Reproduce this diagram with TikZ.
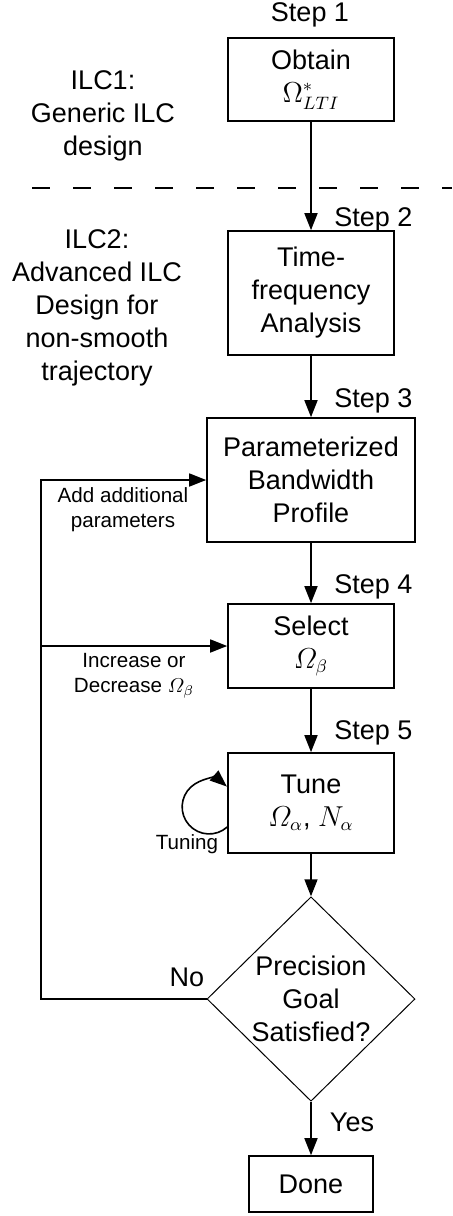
\documentclass[tikz,border=0pt]{standalone}
\usepackage{amsmath}
\usepackage{fontspec}
\setmainfont{Liberation Sans}
\usetikzlibrary{arrows.meta,shapes.geometric}
\newcommand{\bigtxt}{\fontsize{13.5pt}{16.5pt}\selectfont}
\newcommand{\smalltxt}{\fontsize{10.3pt}{12.5pt}\selectfont}
\tikzset{
	stepbox/.style={draw, line width=0.8pt, align=center, inner sep=0pt, font=\bigtxt},
	decision/.style={draw, diamond, line width=0.5pt, align=center, inner sep=0pt, font=\bigtxt},
	arr/.style={line width=0.8pt, -{Triangle[length=8.5pt,width=6.5pt]}},
	steplabel/.style={anchor=west, font=\bigtxt, inner sep=0pt},
	note/.style={align=center, font=\smalltxt, inner sep=0pt},
	phase/.style={align=center, font=\bigtxt, inner sep=0pt}
}

\begin{document}
\begin{tikzpicture}[x=0.5pt, y=-0.5pt]
		%%%%% START %%%%%
		\useasboundingbox (0, 0) rectangle (452, 1216);
		
		\node[phase] (ilc1) at (103, 116) {ILC1:\\Generic ILC\\design};
		\node[phase] (ilc2) at (97, 308) {ILC2:\\Advanced ILC\\Design for\\non-smooth\\trajectory};
		\draw[line width=0.8pt, dash pattern=on 9pt off 11.5pt] (32, 188) -- (452, 188);
		
		\node[stepbox, minimum width=83pt, minimum height=41.5pt] (obtain) at (311, 79.5) {Obtain\\$\Omega^{*}_{LTI}$};
		\node[stepbox, minimum width=83pt, minimum height=62pt] (analysis) at (311, 293) {Time-\\frequency\\Analysis};
		\node[stepbox, minimum width=104pt, minimum height=62pt] (profile) at (311, 480) {Parameterized\\Bandwidth\\Profile};
		\node[stepbox, minimum width=83pt, minimum height=42pt] (select) at (311, 646) {Select\\$\varOmega_{\beta}$};
		\node[stepbox, minimum width=83pt, minimum height=50pt] (tune) at (311, 803) {Tune\\$\varOmega_{\alpha}$, $N_{\alpha}$};
		\node[decision, minimum width=104pt, minimum height=98.5pt] (goal) at (311, 999) {Precision\\Goal\\Satisfied?};
		\node[stepbox, minimum width=62pt, minimum height=28pt] (done) at (311, 1184) {Done};
		
		\node[font=\bigtxt, inner sep=0pt] (s1) at (310, 15) {Step 1};
		\node[steplabel] (s2) at (334, 220) {Step 2};
		\node[steplabel] (s3) at (334, 401) {Step 3};
		\node[steplabel] (s4) at (334, 587) {Step 4};
		\node[steplabel] (s5) at (334, 733) {Step 5};
		
		\draw[arr] (obtain) -- (analysis);
		\draw[arr] (analysis) -- (profile);
		\draw[arr] (profile) -- (select);
		\draw[arr] (select) -- (tune);
		\draw[arr] (tune) -- (goal);
		\draw[arr] (goal) -- (done);
		\node[font=\bigtxt, inner sep=0pt] (yes) at (352, 1122) {Yes};
		
		% loop back
		\coordinate (back) at (41, 999);
		\draw[arr] (goal.west) -- (back) |- (profile.west);
		\draw[arr] (back |- select.west) -- (select.west);
		\node[font=\bigtxt, inner sep=0pt] (no) at (187, 977) {No};
		\node[note] (addpar) at (123, 510) {Add additional\\parameters};
		\node[note] (incdec) at (134, 676) {Increase or\\Decrease $\varOmega_{\beta}$};
		
		% tuning
		\draw[arr] ([yshift=-12pt]tune.west) arc[start angle=-48, end angle=-311, radius=13.5pt];
		\node[note] (tuning) at (187, 844) {Tuning};
		
		%%%%% END %%%%%
	\end{tikzpicture}
\end{document}
